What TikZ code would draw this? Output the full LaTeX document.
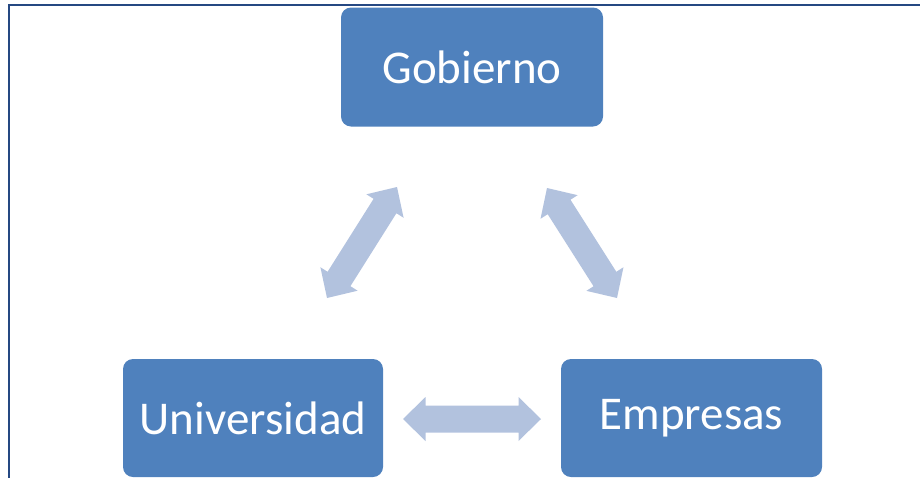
\documentclass[tikz,border=0pt]{standalone}
\usepackage{fontspec}
\setmainfont{Carlito}
\usetikzlibrary{calc}
\definecolor{boxblue}{RGB}{79,129,189}
\definecolor{arrowblue}{RGB}{178,194,222}
\definecolor{framec}{RGB}{37,72,130}
\newcommand{\hlen}{22.5pt}
\newcommand{\hwid}{22pt}
\newcommand{\swid}{13.5pt}
\newcommand{\blockarrow}[2]{%
  \coordinate (h1) at ($(#1)!\hlen!(#2)$);
  \coordinate (h2) at ($(#2)!\hlen!(#1)$);
  \fill[arrowblue] (#1) -- ($(h1)!\hwid!90:(#2)$) -- ($(h1)!\swid!90:(#2)$)
    -- ($(h2)!\swid!-90:(#1)$) -- ($(h2)!\hwid!-90:(#1)$) -- (#2)
    -- ($(h2)!\hwid!90:(#1)$) -- ($(h2)!\swid!90:(#1)$)
    -- ($(h1)!\swid!-90:(#2)$) -- ($(h1)!\hwid!-90:(#2)$) -- cycle;}
\begin{document}
\begin{tikzpicture}[x=1pt,y=-1pt,
  box/.style={fill=boxblue, rounded corners=10pt, text=white, font=\fontsize{47}{56}\selectfont, inner sep=0pt},
  frameline/.style={draw=framec, line width=2.8pt}]
\useasboundingbox (0,0) rectangle (920,477);
\draw[frameline] (9,478) -- (9,5) -- (921,5);
\node[box, minimum width=262pt, minimum height=119pt] (gob) at (472,67) {Gobierno};
\node[box, minimum width=260pt, minimum height=118pt] (uni) at (253,418) {Universidad};
\node[box, minimum width=261pt, minimum height=118pt] (emp) at (691.5,418) {Empresas};
\coordinate (a1) at (397,187);
\coordinate (a2) at (327,298);
\coordinate (b1) at (547,188);
\coordinate (b2) at (617,298);
\coordinate (c1) at (403,419);
\coordinate (c2) at (541,419);
\blockarrow{a1}{a2}
\blockarrow{b1}{b2}
\blockarrow{c1}{c2}
\end{tikzpicture}
\end{document}
